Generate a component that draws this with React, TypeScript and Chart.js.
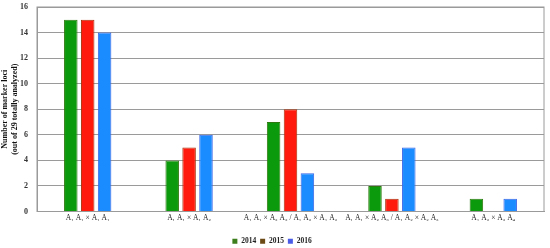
import React, { useEffect, useRef } from "react";
import { Chart, registerables } from "chart.js";

Chart.register(...registerables);

const categories = [
  "A₁ A₁ × A₁ A₁",
  "A₁ A₁ × A₁ A₂",
  "A₁ A₁ × A₂ A₂ / A₁ A₂ × A₁ A₂",
  "A₁ A₁ × A₂ A₃ / A₁ A₂ × A₂ A₃",
  "A₁ A₂ × A₃ A₄",
];
const seriesNames = ["2014", "2015", "2016"];
const values2014 = [15, 4, 7, 2, 1];
const values2015 = [15, 5, 8, 1, 0];
const values2016 = [14, 6, 3, 5, 1];
const yTitle = ["Number of marker loci", "(out of 29 totally analyzed)"];

const fills = ["#0b9a0b", "#ff1a0d", "#1a8cff"];
const borders = ["#2f7a10", "#a8320c", "#3a66e8"];
const legendColors = ["#3c7d1c", "#6b4a16", "#4a5ce6"];

const frame = {
  id: "frame",
  afterDraw(chart: any) {
    const { ctx, chartArea } = chart;
    ctx.save();
    ctx.strokeStyle = "#9a9a9a";
    ctx.lineWidth = 1;
    ctx.strokeRect(chartArea.left, chartArea.top, chartArea.right - chartArea.left, chartArea.bottom - chartArea.top);
    ctx.restore();
  },
};

export default function App() {
  const ref = useRef<HTMLCanvasElement>(null);
  useEffect(() => {
    const font = "'Liberation Serif', 'DejaVu Serif', serif";
    const data = [values2014, values2015, values2016];
    const chart = new Chart(ref.current!, {
      type: "bar",
      data: {
        labels: categories,
        datasets: seriesNames.map((n, i) => ({
          label: n,
          data: data[i],
          backgroundColor: fills[i],
          borderColor: borders[i],
          borderWidth: 1,
          categoryPercentage: 0.5,
          barPercentage: 0.8,
        })),
      },
      options: {
        animation: false,
        responsive: false,
        maintainAspectRatio: false,
        layout: { padding: { top: 7, right: 6, left: 0, bottom: -7 } },
        plugins: {
          tooltip: { enabled: false },
          legend: {
            position: "bottom",
            labels: {
              boxWidth: 5,
              boxHeight: 5,
              padding: 4,
              color: "#222",
              font: { family: font, size: 7.5, weight: "bold" },
              generateLabels: () =>
                seriesNames.map((n, i) => ({
                  text: n,
                  fillStyle: legendColors[i],
                  strokeStyle: legendColors[i],
                  lineWidth: 0,
                  datasetIndex: i,
                  hidden: false,
                  fontColor: "#222",
                })),
            },
          },
        },
        scales: {
          x: {
            afterFit: (s: any) => {
              s.height = 22;
            },
            grid: { display: false, drawTicks: false },
            border: { display: true, color: "#9a9a9a" },
            ticks: {
              color: "#222",
              font: { family: font, size: 7.5 },
              maxRotation: 0,
              autoSkip: false,
              padding: 2,
            },
          },
          y: {
            min: 0,
            max: 16,
            afterFit: (s: any) => {
              s.width = 37;
              s.paddingTop = 0;
              s.paddingBottom = 0;
            },
            ticks: {
              stepSize: 2,
              color: "#333",
              font: { family: font, size: 8, weight: "bold" },
              padding: 9,
            },
            grid: { color: "#9a9a9a", lineWidth: 1, drawTicks: false },
            border: { display: true, color: "#9a9a9a" },
            title: {
              display: true,
              text: yTitle,
              color: "#111",
              font: { family: font, size: 8, weight: "bold", lineHeight: 1.25 },
              padding: 0,
            },
          },
        },
      },
      plugins: [frame],
    });
    return () => chart.destroy();
  }, []);
  return (
    <div style={{ position: "absolute", left: 0, top: 0, width: 550, height: 248, background: "#fff" }}>
      <canvas ref={ref} width={550} height={248} style={{ width: 550, height: 248 }} />
    </div>
  );
}
